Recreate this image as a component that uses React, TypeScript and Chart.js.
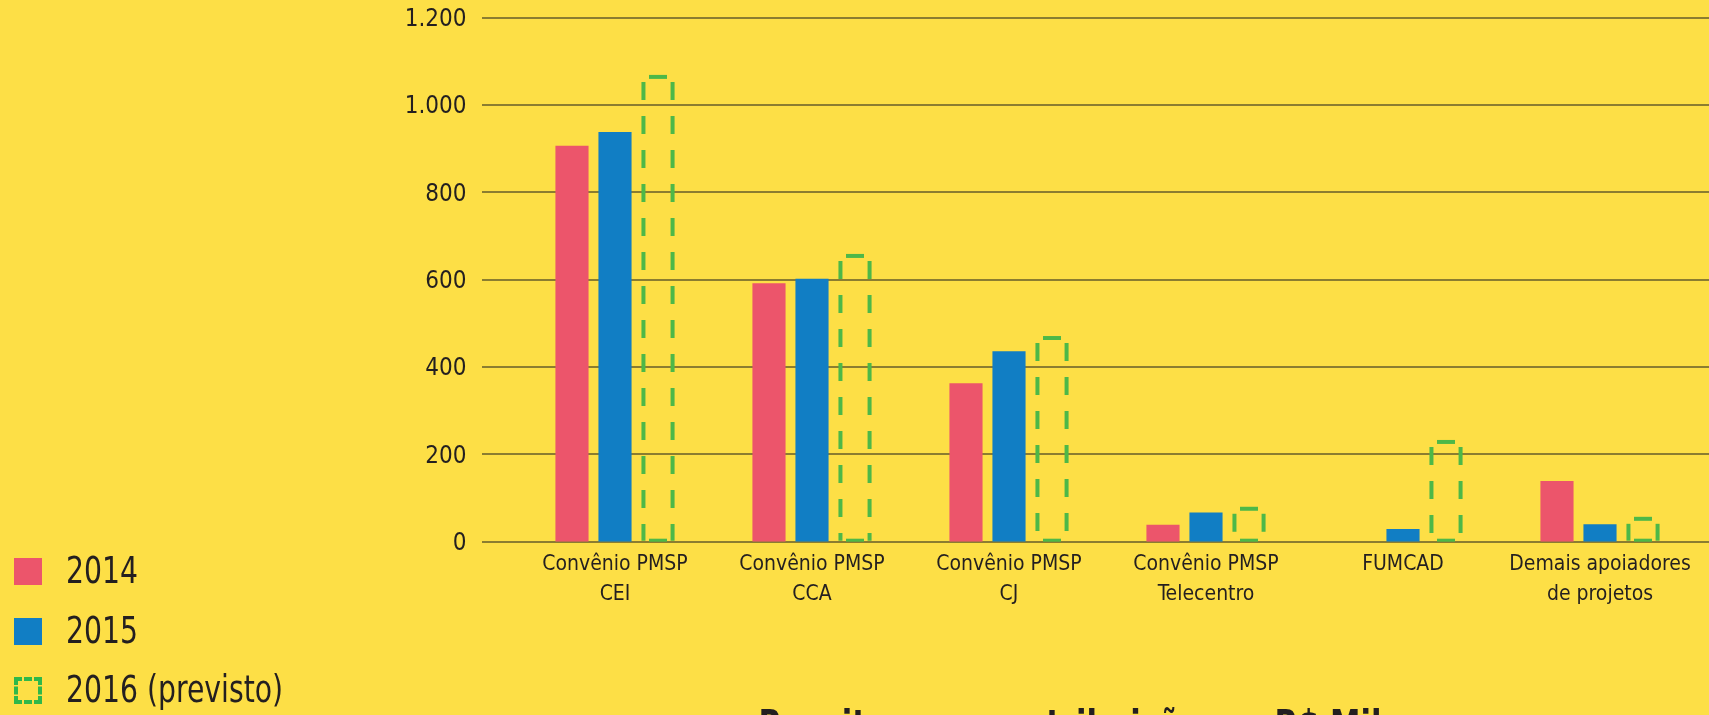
import React, { useEffect, useRef } from "react";
import { Chart, registerables } from "chart.js";

Chart.register(...registerables);

const categories: string[][] = [
  ["Convênio PMSP", "CEI"],
  ["Convênio PMSP", "CCA"],
  ["Convênio PMSP", "CJ"],
  ["Convênio PMSP", "Telecentro"],
  ["FUMCAD"],
  ["Demais apoiadores", "de projetos"],
];
const values2014: (number | null)[] = [907, 592, 363, 39, null, 139];
const values2015: number[] = [938, 602, 436, 67, 29, 40];
const values2016: number[] = [1069, 659, 471, 80, 233, 57];
const seriesLabels = ["2014", "2015", "2016 (previsto)"];
const yMin = 0;
const yMax = 1200;
const yStep = 200;
const titleText = "Receitas por contribuição em R$ Mil";

const BG = "#fddf46";
const PINK = "#ec556b";
const BLUE = "#117ec4";
const GREEN = "#4db848";
const LEGEND_GREEN = "#2fb84a";
const GRID = "#8b7d30";
const TEXT = "#231f20";
const FONT = "'Liberation Sans Narrow', 'DejaVu Sans Condensed', 'Roboto', sans-serif";

const fmt = (v: number) => String(v).replace(/\B(?=(\d{3})+(?!\d))/g, ".");

const gridPlugin = {
  id: "customGrid",
  beforeDatasetsDraw(chart: any) {
    const ctx = chart.ctx;
    const y = chart.scales.y;
    ctx.save();
    ctx.strokeStyle = GRID;
    ctx.lineWidth = 2;
    y.ticks.forEach((t: any) => {
      const py = Math.round(y.getPixelForValue(t.value));
      ctx.beginPath();
      ctx.moveTo(482, py);
      ctx.lineTo(chart.width, py);
      ctx.stroke();
    });
    ctx.restore();
  },
};

const dashedBarsPlugin = {
  id: "dashedBars",
  afterDatasetsDraw(chart: any) {
    const ctx = chart.ctx;
    const meta = chart.getDatasetMeta(2);
    ctx.save();
    ctx.strokeStyle = GREEN;
    ctx.lineWidth = 4;
    ctx.lineCap = "butt";
    meta.data.forEach((el: any) => {
      const { x, y, base, width } = el.getProps(["x", "y", "base", "width"], true);
      if (y == null || isNaN(y)) return;
      const l = x - width / 2 + 2;
      const r = x + width / 2 - 2;
      const t = y + 2;
      const b = base - 1;
      // sides: dashes from just below the top downward
      ctx.setLineDash([18, 16]);
      [l, r].forEach((sx) => {
        ctx.beginPath();
        ctx.moveTo(sx, t + 5);
        ctx.lineTo(sx, b);
        ctx.stroke();
      });
      // top and bottom: one centred dash
      ctx.setLineDash([]);
      const half = Math.min(9, (r - l) / 2 - 4);
      ctx.beginPath();
      ctx.moveTo(x - half, t);
      ctx.lineTo(x + half, t);
      ctx.stroke();
      ctx.lineWidth = 3;
      ctx.beginPath();
      ctx.moveTo(x - half, b - 0.5);
      ctx.lineTo(x + half, b - 0.5);
      ctx.stroke();
      ctx.lineWidth = 4;
    });
    ctx.restore();
  },
};

export default function App() {
  const ref = useRef<HTMLCanvasElement | null>(null);

  useEffect(() => {
    if (!ref.current) return;
    const chart = new Chart(ref.current, {
      type: "bar",
      data: {
        labels: categories,
        datasets: [
          { label: seriesLabels[0], data: values2014, backgroundColor: PINK, borderWidth: 0 },
          { label: seriesLabels[1], data: values2015, backgroundColor: BLUE, borderWidth: 0 },
          { label: seriesLabels[2], data: values2016, backgroundColor: "rgba(0,0,0,0)", borderWidth: 0 },
        ],
      },
      options: {
        animation: false,
        responsive: false,
        maintainAspectRatio: false,
        layout: { padding: { left: 0, right: 10.5, top: 17.7, bottom: 0 } },
        datasets: { bar: { categoryPercentage: 0.655, barPercentage: 0.77 } },
        plugins: { legend: { display: false }, tooltip: { enabled: false }, title: { display: false } },
        scales: {
          x: {
            grid: { display: false, drawTicks: false },
            border: { display: false },
            ticks: {
              color: TEXT,
              padding: 8,
              maxRotation: 0,
              autoSkip: false,
              font: { family: FONT, size: 21, lineHeight: 1.42 },
            },
            afterFit: (s: any) => {
              s.height = 173.3;
              s.paddingLeft = 0;
              s.paddingRight = 0;
            },
          },
          y: {
            min: yMin,
            max: yMax,
            grid: { display: false, drawTicks: false },
            border: { display: false },
            ticks: {
              stepSize: yStep,
              color: TEXT,
              padding: 50,
              labelOffset: 2,
              font: { family: FONT, size: 24 },
              callback: (v: any) => fmt(Number(v)),
            },
            afterFit: (s: any) => {
              s.width = 516.5;
              s.paddingTop = 0;
              s.paddingBottom = 0;
            },
          },
        },
      },
      plugins: [gridPlugin, dashedBarsPlugin],
    });
    return () => chart.destroy();
  }, []);

  const legendItems = [
    { label: seriesLabels[0], color: PINK, dashed: false, top: 558 },
    { label: seriesLabels[1], color: BLUE, dashed: false, top: 618 },
    { label: seriesLabels[2], color: LEGEND_GREEN, dashed: true, top: 677 },
  ];

  return (
    <div
      style={{
        position: "fixed",
        left: 0,
        top: 0,
        width: 1709,
        height: 715,
        background: BG,
        overflow: "hidden",
        fontFamily: FONT,
      }}
    >
      <canvas ref={ref} width={1709} height={715} style={{ position: "absolute", left: 0, top: 0, width: 1709, height: 715 }} />
      {legendItems.map((it) => (
        <div key={it.label} style={{ position: "absolute", left: 0, top: it.top, height: 27, width: 400 }}>
          <div
            style={{
              position: "absolute",
              left: 14,
              top: 0,
              width: 28,
              height: 27,
              boxSizing: "border-box",
              background: it.dashed ? "transparent" : it.color,
              border: it.dashed ? `4px dashed ${it.color}` : "none",
            }}
          />
          <div
            style={{
              position: "absolute",
              left: 66,
              top: -6,
              fontSize: 37,
              lineHeight: "37px",
              color: TEXT,
              whiteSpace: "nowrap",
              transform: "scaleX(0.85)",
              transformOrigin: "0 0",
            }}
          >
            {it.label}
          </div>
        </div>
      ))}
      <div
        style={{
          position: "absolute",
          left: 570,
          width: 1000,
          top: 705,
          textAlign: "center",
          fontSize: 41,
          lineHeight: "41px",
          fontWeight: "bold",
          color: TEXT,
          whiteSpace: "nowrap",
          transform: "scaleX(0.83)",
          transformOrigin: "500px 0",
        }}
      >
        {titleText}
      </div>
    </div>
  );
}
